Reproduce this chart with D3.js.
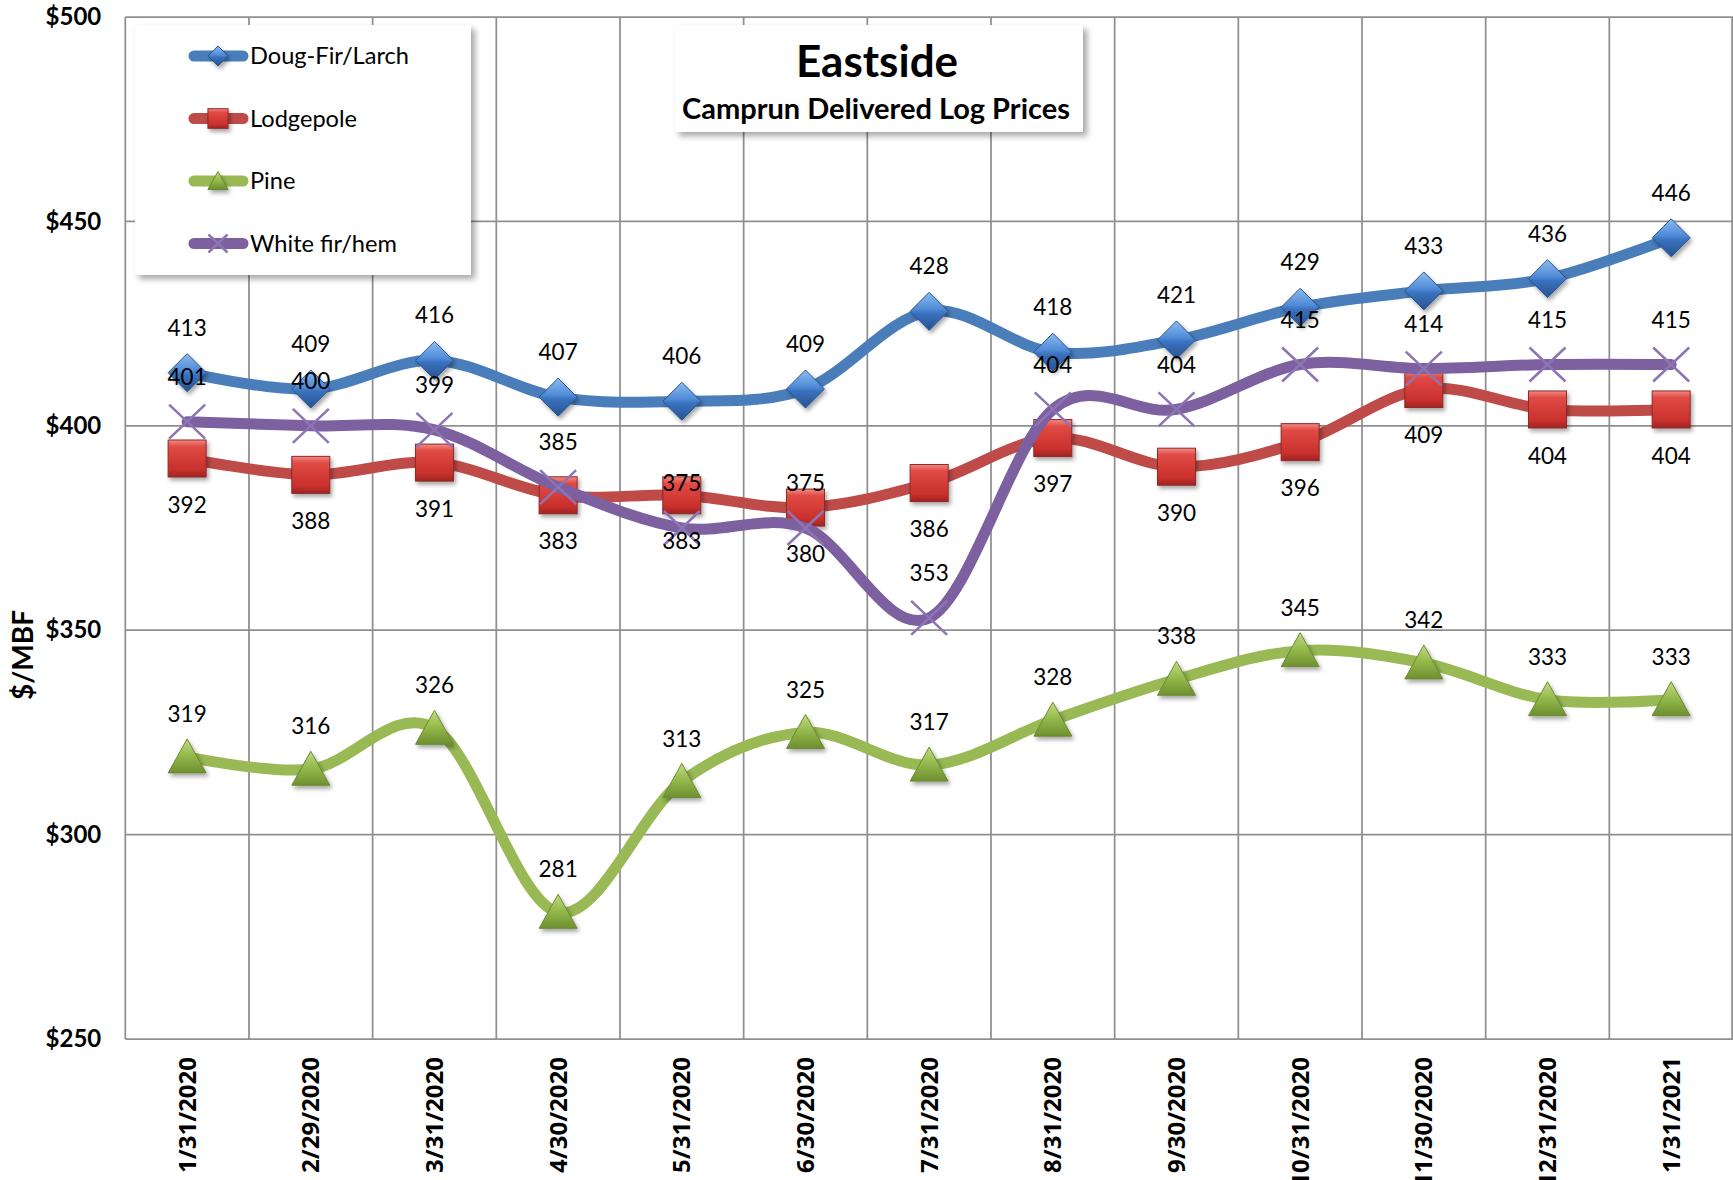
<!DOCTYPE html>
<html><head><meta charset="utf-8">
<script src="https://cdn.jsdelivr.net/npm/d3@7"></script>
<style>body{margin:0;background:#fff}svg{display:block}</style>
</head><body>
<svg id="chart" width="1733" height="1180"></svg>
<script>
const dates = ["1/31/2020","2/29/2020","3/31/2020","4/30/2020","5/31/2020","6/30/2020","7/31/2020","8/31/2020","9/30/2020","10/31/2020","11/30/2020","12/31/2020","1/31/2021"];
const dougFir = [413,409,416,407,406,409,428,418,421,429,433,436,446];
const lodgepole = [392,388,391,383,383,380,386,397,390,396,409,404,404];
const pine = [319,316,326,281,313,325,317,328,338,345,342,333,333];
const whiteFir = [401,400,399,385,375,375,353,404,404,415,414,415,415];
const yTicks = [250,300,350,400,450,500];
const seriesNames = ["Doug-Fir/Larch","Lodgepole","Pine","White fir/hem"];

(function(){
const svg = d3.select("#chart");
const pL = 125.3, pR = 1733, pT = 17, pB = 1039;
const x = d3.scaleBand().domain(dates).range([pL, pR]);
const y = d3.scaleLinear().domain([250,500]).range([pB, pT]);
const cx = d => x(d) + x.bandwidth()/2;

const defs = svg.append("defs");
const sh = defs.append("filter").attr("id","boxShadow").attr("x","-10%").attr("y","-10%").attr("width","130%").attr("height","130%");
sh.append("feDropShadow").attr("dx",4).attr("dy",4).attr("stdDeviation",3).attr("flood-color","#000").attr("flood-opacity",0.35);
const ms = defs.append("filter").attr("id","mShadow").attr("x","-30%").attr("y","-30%").attr("width","170%").attr("height","170%");
ms.append("feDropShadow").attr("dx",2).attr("dy",3).attr("stdDeviation",2).attr("flood-color","#000").attr("flood-opacity",0.35);
function grad(id, stops){
  const g = defs.append("linearGradient").attr("id",id).attr("x1",0).attr("y1",0).attr("x2",0).attr("y2",1);
  stops.forEach(s=>g.append("stop").attr("offset",s[0]).attr("stop-color",s[1]));
}
grad("gBlue",[[0,"#8cbcf0"],[0.45,"#4f8ad6"],[0.55,"#3a72bf"],[1,"#26528f"]]);
grad("gRed",[[0,"#f38a86"],[0.18,"#e04a45"],[0.8,"#c9302c"],[1,"#9e2522"]]);
grad("gGreen",[[0,"#c2dc82"],[0.5,"#93b84a"],[1,"#6e8f30"]]);

// gridlines
const grid = svg.append("g");
grid.selectAll("line.h").data(yTicks).join("line")
  .attr("x1",pL).attr("x2",pR).attr("y1",d=>y(d)).attr("y2",d=>y(d))
  .attr("stroke","#8f8f8f").attr("stroke-width",1.75);
const bounds = dates.map(d=>x(d)).concat([pR-0.9]);
grid.selectAll("line.v").data(bounds).join("line")
  .attr("x1",d=>d).attr("x2",d=>d).attr("y1",pT).attr("y2",pB)
  .attr("stroke","#8f8f8f").attr("stroke-width",1.75);

// y axis labels
const yAxis = d3.axisLeft(y).tickValues(yTicks).tickSize(0).tickPadding(24).tickFormat(d=>"$"+d);
const ya = svg.append("g").attr("transform",`translate(${pL},0)`).call(yAxis);
ya.select(".domain").remove();
ya.selectAll("text").attr("font-family","Lato").attr("font-weight","bold").attr("font-size",24).attr("fill","#000");

// x axis labels
svg.append("g").selectAll("text").data(dates).join("text")
  .attr("transform",d=>`translate(${cx(d)},1057) rotate(-90)`)
  .attr("text-anchor","end").attr("dy","0.36em")
  .attr("font-family","Open Sans").attr("font-weight","bold").attr("font-size",24)
  .text(d=>d);

// y title
svg.append("text").attr("transform","translate(23,655) rotate(-90)")
  .attr("text-anchor","middle").attr("dy","0.36em")
  .attr("font-family","Lato").attr("font-weight","bold").attr("font-size",28)
  .text("$/MBF");

// legend box
svg.append("rect").attr("x",135).attr("y",25).attr("width",336).attr("height",250)
  .attr("fill","#fff").attr("filter","url(#boxShadow)");
// title box
svg.append("rect").attr("x",675).attr("y",25).attr("width",408).attr("height",107)
  .attr("fill","#fff").attr("filter","url(#boxShadow)");
svg.append("text").attr("x",877).attr("y",77).attr("text-anchor","middle")
  .attr("font-family","Lato").attr("font-weight","bold").attr("font-size",44).text("Eastside");
svg.append("text").attr("x",876).attr("y",119).attr("text-anchor","middle")
  .attr("font-family","Lato").attr("font-weight","bold").attr("font-size",29).text("Camprun Delivered Log Prices");

const series = [
  {name:seriesNames[0], values:dougFir, line:"#4a7ebb", marker:"diamond", labelDy:-45},
  {name:seriesNames[1], values:lodgepole, line:"#be4b48", marker:"square", labelDy:46},
  {name:seriesNames[2], values:pine, line:"#98b954", marker:"triangle", labelDy:-43},
  {name:seriesNames[3], values:whiteFir, line:"#7d60a0", marker:"x", labelDy:-45}
];

function drawMarker(g, type, s){
  if(type==="diamond"){
    g.append("path").attr("d",`M0,${-19*s}L${19*s},0L0,${19*s}L${-19*s},0Z`)
      .attr("fill","url(#gBlue)").attr("stroke","#2b5592").attr("stroke-width",1).attr("filter","url(#mShadow)");
  } else if(type==="square"){
    g.append("rect").attr("x",-19*s).attr("y",-18.5*s).attr("width",38*s).attr("height",37*s)
      .attr("fill","url(#gRed)").attr("stroke","#8c2a27").attr("stroke-width",1).attr("filter","url(#mShadow)");
  } else if(type==="triangle"){
    g.append("path").attr("d",`M0,${-18*s}L${19*s},${16*s}L${-19*s},${16*s}Z`)
      .attr("fill","url(#gGreen)").attr("stroke","#6a8a2f").attr("stroke-width",1).attr("filter","url(#mShadow)");
  } else {
    g.append("path").attr("d",`M${-18*s},${-17*s}L${18*s},${17*s}M${-18*s},${17*s}L${18*s},${-17*s}`)
      .attr("fill","none").attr("stroke","#8d74b4").attr("stroke-width",2.5);
  }
}

// legend items
const lg = svg.append("g");
series.forEach((s,i)=>{
  const yy = 56 + i*62.5;
  lg.append("line").attr("x1",194).attr("x2",243).attr("y1",yy).attr("y2",yy)
    .attr("stroke",s.line).attr("stroke-width",11).attr("stroke-linecap","round");
  drawMarker(lg.append("g").attr("transform",`translate(218,${yy})`), s.marker, 0.53);
  lg.append("text").attr("x",250).attr("y",yy).attr("dy","0.36em")
    .attr("font-family","Lato").attr("font-size",23.6).text(s.name);
});

const lineGen = d3.line().x((v,i)=>cx(dates[i])).y(v=>y(v)).curve(d3.curveCardinal.tension(0));
const plot = svg.append("g");
series.forEach(s=>{
  const g = plot.append("g");
  g.append("path").attr("d",lineGen(s.values)).attr("fill","none")
    .attr("stroke",s.line).attr("stroke-width",11).attr("stroke-linecap","round").attr("stroke-linejoin","round");
  s.values.forEach((v,i)=>{
    drawMarker(g.append("g").attr("transform",`translate(${cx(dates[i])},${y(v)})`), s.marker, 1);
  });
});

// data labels
const labels = svg.append("g");
series.forEach(s=>{
  labels.selectAll(null).data(s.values).join("text")
    .attr("x",(v,i)=>cx(dates[i])).attr("y",v=>y(v)+s.labelDy).attr("dy","0.36em")
    .attr("text-anchor","middle").attr("font-family","Lato").attr("font-size",22.5).attr("fill","#000")
    .text(v=>v);
});
})();
</script>
</body></html>
